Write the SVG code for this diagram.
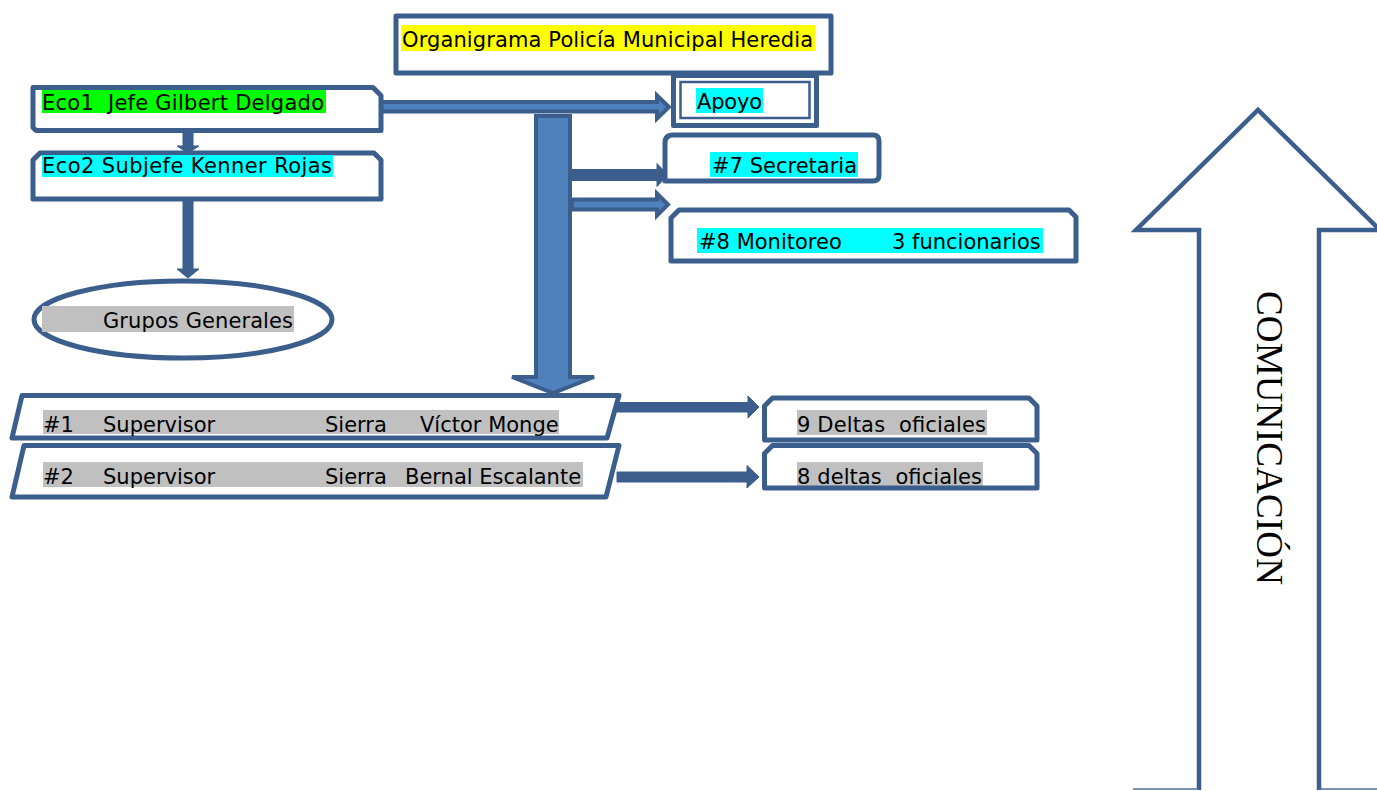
<svg xmlns="http://www.w3.org/2000/svg" width="1377" height="791" viewBox="0 0 1377 791" xml:space="preserve">
<style>
.box{fill:#fff;stroke:#3B5E8C;stroke-width:5;stroke-linejoin:round}
.t{font-family:"DejaVu Sans","Liberation Sans",sans-serif;font-size:21px;fill:#000;white-space:pre}
.hy{fill:#FFFF00}.hg{fill:#00FF00}.hc{fill:#00FFFF}.hs{fill:#C0C0C0}
.ad{fill:#3B5E8C;stroke:#3B5E8C;stroke-width:1}
.al{fill:#4F81BD;stroke:#3B5E8C;stroke-width:4;stroke-linejoin:miter}
.big{fill:none;stroke:#3B5E8C;stroke-width:4.5;stroke-linejoin:miter}
</style>
<rect width="1377" height="791" fill="#fff"/>

<g id="connectors">
  <polygon class="al" points="536,116 570,116 570,377 594,377 553,393 512,377 536,377" stroke-width="6"/>
  <polygon class="al" points="381,102 657,102 657,95.5 669,107 657,118.5 657,111.5 381,111.5"/>
  <polygon class="ad" points="572,169.5 657,169.5 657,163.5 668,175 657,186.5 657,180.5 572,180.5"/>
  <polygon class="al" points="572,199.5 657,199.5 657,193.5 668,204.5 657,215.5 657,209.5 572,209.5"/>
  <polygon class="ad" points="183,131 193,131 193,146 199,146 188,153 177,146 183,146"/>
  <polygon class="ad" points="183,192 193,192 193,269 199,269 188,278 177,269 183,269"/>
  <polygon class="ad" points="617,402.5 748,402.5 748,396 759,407 748,418 748,412 617,412"/>
  <polygon class="ad" points="617,472 747,472 747,465.5 759,477 747,488 747,482 617,482"/>
</g>

<g id="title">
  <rect class="box" x="396" y="16" width="435" height="57" stroke-linejoin="miter"/>
  <rect class="hy" x="401" y="25" width="414" height="26"/>
  <text class="t" x="402" y="47" textLength="411">Organigrama Policía Municipal Heredia</text>
</g>

<g id="eco1">
  <path class="box" d="M33,87.5 H373 L381,95.5 V130.5 H36 L33,127.5 Z"/>
  <rect class="hg" x="42" y="90" width="284" height="23"/>
  <text class="t" x="42" y="110" textLength="282">Eco1  Jefe Gilbert Delgado</text>
</g>

<g id="eco2">
  <path class="box" d="M33,160 L40,153 H374 L381,160 V199 H33 Z"/>
  <rect class="hc" x="42" y="155" width="291" height="22"/>
  <text class="t" x="42" y="173" textLength="290">Eco2 Subjefe Kenner Rojas</text>
</g>

<g id="grupos">
  <ellipse class="box" cx="183" cy="319.5" rx="149" ry="38.5"/>
  <rect class="hs" x="42" y="306" width="252" height="26"/>
  <text class="t" x="103" y="328" textLength="190">Grupos Generales</text>
</g>

<g id="apoyo">
  <rect class="box" x="673.5" y="75.5" width="143" height="50" stroke-width="5.5" stroke-linejoin="miter"/>
  <rect x="680.5" y="82" width="129" height="36" fill="none" stroke="#3B5E8C" stroke-width="2.5"/>
  <rect class="hc" x="696" y="88" width="67" height="25"/>
  <text class="t" x="697" y="109" textLength="65">Apoyo</text>
</g>

<g id="secretaria">
  <path class="box" d="M665,143 Q665,135 673,135 H873 Q879,135 879,141 V175 Q879,181 873,181 H665 Z"/>
  <rect class="hc" x="710" y="152" width="148" height="25"/>
  <text class="t" x="712" y="173" textLength="145">#7 Secretaria</text>
</g>

<g id="monitoreo">
  <path class="box" d="M671,218 L679,210 H1069 L1076,217 V261 H671 Z"/>
  <rect class="hc" x="697" y="228" width="346" height="25"/>
  <text class="t" y="249"><tspan x="699">#8 Monitoreo</tspan><tspan x="892">3 funcionarios</tspan></text>
</g>

<g id="supervisor1">
  <polygon class="box" points="22,395.5 619,395.5 607,438 12,438" stroke-linejoin="miter"/>
  <rect class="hs" x="43" y="410" width="516" height="24"/>
  <text class="t" y="432"><tspan x="43">#1</tspan><tspan x="103">Supervisor</tspan><tspan x="325">Sierra</tspan><tspan x="420">Víctor Monge</tspan></text>
</g>

<g id="supervisor2">
  <polygon class="box" points="24,445.5 619,445.5 606,497 12,497" stroke-linejoin="miter"/>
  <rect class="hs" x="43" y="462" width="540" height="25"/>
  <text class="t" y="484"><tspan x="43">#2</tspan><tspan x="103">Supervisor</tspan><tspan x="325">Sierra</tspan><tspan x="405">Bernal Escalante</tspan></text>
</g>

<g id="deltas9">
  <path class="box" d="M764.5,406 L772.5,398 H1029 L1037,406 V440 H764.5 Z"/>
  <rect class="hs" x="797" y="410" width="190" height="25"/>
  <text class="t" x="797" y="432" textLength="189">9 Deltas  oficiales</text>
</g>

<g id="deltas8">
  <rect class="hs" x="797" y="462" width="186" height="24"/>
  <text class="t" x="797" y="484" textLength="185">8 deltas  oficiales</text>
  <path class="box" style="fill:none" d="M764.5,453.5 L772.5,445.5 H1029 L1037,453.5 V488 H764.5 Z"/>
</g>

<g id="comunicacion">
  <polyline class="big" points="1199,790 1199,230 1136,230 1258,110 1380,230 1319,230 1319,790"/>
  <line x1="1133" y1="789" x2="1199" y2="789" stroke="#4F6F9C" stroke-width="1.5"/>
  <line x1="1319" y1="789" x2="1377" y2="789" stroke="#4F6F9C" stroke-width="1.5"/>
  <text transform="translate(1257,291) rotate(90)" font-family="'Liberation Serif','Times New Roman',serif" font-size="37" fill="#000" textLength="294">COMUNICACIÓN</text>
</g>
</svg>
